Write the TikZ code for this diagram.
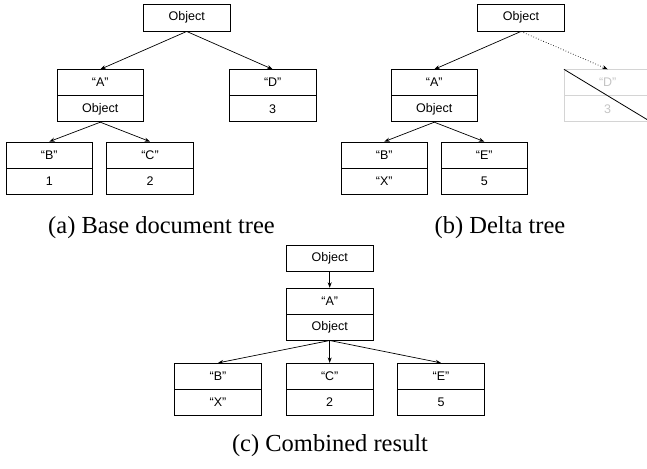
\documentclass[tikz,border=0pt]{standalone}
\usepackage{fontspec}
\setmainfont{Liberation Serif}
\newfontfamily\cellfont{Liberation Sans}
\usetikzlibrary{arrows.meta}

\definecolor{ghostline}{HTML}{D4D4D4}
\definecolor{ghosttext}{HTML}{C4C4C4}

\begin{document}
\begin{tikzpicture}[x=1pt,y=-1pt,
  cell/.style={draw, line width=0.8pt, minimum width=86.7pt, minimum height=26pt,
    inner sep=0pt, font=\cellfont\fontsize{12.5}{14}\selectfont},
  rootcell/.style={cell, minimum height=26.7pt},
  ghost/.style={cell, draw=ghostline, text=ghosttext},
  link/.style={-{Stealth[length=5.5pt,width=4pt]}, line width=0.7pt},
  caption/.style={font=\fontsize{24.5}{28}\selectfont, anchor=base}
]
\useasboundingbox (0,0) rectangle (647,468);
\clip (0,0) rectangle (647,468);

% ---- (a) base document tree ----
\node[rootcell] (oa) at (186.7,17.7) {Object};
\node[cell] (aAk) at (100.3,82.7) {“A”};
\node[cell] (aAv) at (100.3,108.8) {Object};
\node[cell] (aDk) at (272.7,82.7) {“D”};
\node[cell] (aDv) at (272.7,108.8) {3};
\node[cell] (aBk) at (49.3,155) {“B”};
\node[cell] (aBv) at (49.3,181.2) {1};
\node[cell] (aCk) at (150,155) {“C”};
\node[cell] (aCv) at (150,181.2) {2};
\draw[link] (oa.south) -- (aAk.north);
\draw[link] (oa.south) -- (aDk.north);
\draw[link] (aAv.south) -- (aBk.north);
\draw[link] (aAv.south) -- (aCk.north);
\node[caption] (capa) at (161.5,233) {(a) Base document tree};

% ---- (b) delta tree ----
\node[rootcell] (ob) at (521,17.7) {Object};
\node[cell] (bAk) at (434.3,82.7) {“A”};
\node[cell] (bAv) at (434.3,108.8) {Object};
\node[ghost] (bDk) at (607.7,82.7) {“D”};
\node[ghost] (bDv) at (607.7,108.8) {3};
\node[cell] (bBk) at (384.3,155) {“B”};
\node[cell] (bBv) at (384.3,181.2) {“X”};
\node[cell] (bEk) at (484.3,155) {“E”};
\node[cell] (bEv) at (484.3,181.2) {5};
\draw[link] (ob.south) -- (bAk.north);
\draw[link, dotted] (ob.south) -- (bDk.north);
\draw[line width=0.8pt] (bDk.north west) -- (bDv.south east);
\draw[link] (bAv.south) -- (bBk.north);
\draw[link] (bAv.south) -- (bEk.north);
\node[caption] (capb) at (500,233) {(b) Delta tree};

% ---- (c) combined result ----
\node[rootcell] (oc) at (329.7,258.3) {Object};
\node[cell] (cAk) at (329.7,301.2) {“A”};
\node[cell] (cAv) at (329.7,327.1) {Object};
\node[cell] (cBk) at (218,376.3) {“B”};
\node[cell] (cBv) at (218,402.2) {“X”};
\node[cell] (cCk) at (329.7,376.3) {“C”};
\node[cell] (cCv) at (329.7,402.2) {2};
\node[cell] (cEk) at (441,376.3) {“E”};
\node[cell] (cEv) at (441,402.2) {5};
\draw[link] (oc.south) -- (cAk.north);
\draw[link] (cAv.south) -- (cBk.north);
\draw[link] (cAv.south) -- (cCk.north);
\draw[link] (cAv.south) -- (cEk.north);
\node[caption] (capc) at (330,451) {(c) Combined result};
\end{tikzpicture}
\end{document}
